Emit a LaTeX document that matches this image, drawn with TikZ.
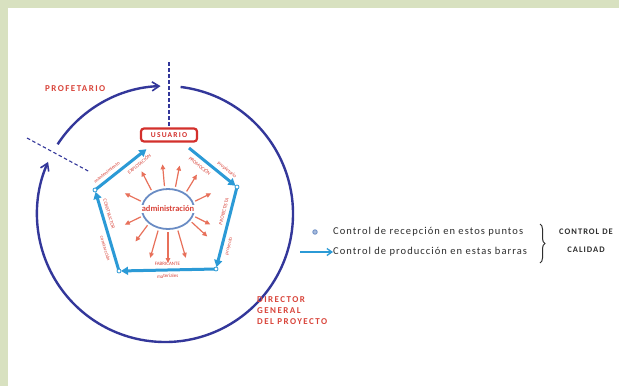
\documentclass[tikz,border=0pt]{standalone}
\usepackage{fontspec}
\setmainfont{Carlito}
\newfontfamily\redwide[LetterSpace=16]{Carlito}
\newfontfamily\legwide[LetterSpace=10]{Carlito}
\newfontfamily\ccwide[LetterSpace=12]{Carlito}
\usetikzlibrary{arrows.meta,decorations.pathreplacing,calc}
\definecolor{frame}{HTML}{D8E1C0}
\definecolor{navy}{HTML}{33379A}
\definecolor{lblue}{HTML}{2B9AD6}
\definecolor{boxred}{HTML}{D3302C}
\definecolor{txtred}{HTML}{D9443A}
\definecolor{salmon}{HTML}{E8705A}
\definecolor{steel}{HTML}{6A8CC4}
\definecolor{legtxt}{HTML}{2E2E2E}
\tikzset{
  bigarc/.style={draw=navy,line width=2.4pt},
  navytip/.style={-{Straight Barb[length=7pt,width=9pt,line width=1.6pt]}},
  dashline/.style={draw=navy,line width=1.1pt,dash pattern=on 3.5pt off 2.5pt},
  pentedge/.style={draw=lblue,line width=3pt,-{Triangle[length=7pt,width=8pt]},shorten >=2pt},
  vdot/.style={circle,draw=lblue,fill=white,line width=0.8pt,inner sep=0pt,minimum size=4pt},
  radarrow/.style={draw=salmon,line width=1.2pt,-{Triangle[length=5pt,width=4.5pt]}},
  edgelbl/.style={font=\fontsize{5}{5.5}\selectfont,text=txtred,inner sep=0.2pt},
  bigred/.style={font=\redwide\bfseries\fontsize{9}{11}\selectfont,text=txtred,align=left},
  legend/.style={font=\legwide\fontsize{10.5}{12}\selectfont,text=legtxt,anchor=west,inner sep=0pt}
}
\begin{document}
\begin{tikzpicture}[x=1pt,y=-1pt]
\useasboundingbox (0,0) rectangle (619,386);
\fill[frame] (0,0) rectangle (619,386);
\fill[white] (8,8) rectangle (619,386);

% big circle
\coordinate (C) at (165,214);
\draw[bigarc,navytip] ($(C)+(213:128)$) arc[start angle=213,end angle=268,radius=128];
\draw[bigarc,navytip] ($(C)+(277:128)$) arc[start angle=277,end angle=564,radius=128];

% usuario
\node[draw=boxred,line width=2.2pt,rounded corners=3pt,minimum width=56pt,minimum height=13pt,inner sep=0pt,
  font=\redwide\bfseries\fontsize{7.5}{8}\selectfont,text=boxred] (usr) at (169,135) {USUARIO};

% dashed lines
\coordinate (dtop) at (169,62);
\draw[dashline] (dtop) -- (usr.north);
\coordinate (dl1) at (27,138);
\coordinate (dl2) at (90,172);
\draw[dashline] (dl1) -- (dl2);

% pentagon vertices
\coordinate (LU) at (95,190);
\coordinate (RU) at (237,187);
\coordinate (RL) at (216,269);
\coordinate (LL) at (119,271);
\coordinate (UL) at (148,148);
\coordinate (UR) at (189,148);

\draw[pentedge] (LL) -- (LU);
\draw[pentedge] (LU) -- (UL);
\draw[pentedge] (UR) -- (RU);
\draw[pentedge] (RU) -- (RL);
\draw[pentedge] (RL) -- (LL);
\foreach \v in {LU,RU,RL,LL} \node[vdot] at (\v) {};

% edge labels
\path (LU) -- (UL) node[edgelbl,pos=0.3,sloped,above=4.5pt] {mantenimiento}
                   node[edgelbl,pos=0.75,sloped,below=4.5pt] {EXPLOTACIÓN};
\path (UR) -- (RU) node[edgelbl,pos=0.7,sloped,above=4.5pt] {propietario}
                   node[edgelbl,pos=0.32,sloped,below=4.5pt] {PROMOCIÓN};
\path (RL) -- (RU) node[edgelbl,pos=0.3,sloped,below=4.5pt] {proyecto}
                   node[edgelbl,pos=0.68,sloped,above=4.5pt] {PROYECTISTA};
\path (RL) -- (LL) node[edgelbl,pos=0.5,sloped,below=4pt] {materiales}
                   node[edgelbl,pos=0.5,sloped,above=4pt] {FABRICANTE};
\path (LU) -- (LL) node[edgelbl,pos=0.7,sloped,below=4.5pt] {construcción}
                   node[edgelbl,pos=0.32,sloped,above=4.5pt] {CONSTRUCTOR};

% administracion
\coordinate (A) at (168,209);
\draw[steel,line width=1.8pt] (A) ellipse[x radius=26,y radius=20];
\foreach \ang/\len in {-160/46,-125/46,-97/45,-75/45,-50/45,-20/46,20/45,35/48,70/52,90/54,110/52,135/46,160/46}{
  \draw[radarrow] ($(A)+(\ang:29 and 23)$) -- ($(A)+(\ang:\len)$);
}
\node[fill=white,inner sep=1pt,font=\bfseries\fontsize{8.5}{9}\selectfont,text=txtred] (adm) at (A) {administración};

% labels
\node[bigred,anchor=west,inner sep=0pt] (prop) at (45,89) {PROFETARIO};
\node[bigred,anchor=north west,inner sep=0pt] (dir) at (257,296) {DIRECTOR\\GENERAL\\DEL PROYECTO};

% legend
\node[vdot,fill=steel!60,draw=steel,minimum size=4.5pt] (ldot) at (315,232) {};
\node[legend] (l1) at (333,232) {Control de recepción en estos puntos};
\coordinate (la) at (300,252);
\node[legend] (l2) at (333,252) {Control de producción en estas barras};
\draw[draw=lblue,line width=1.6pt,-{Straight Barb[length=5pt,width=7pt,line width=1.3pt]}] (la) -- (l2.west);
\coordinate (b1) at (540,224);
\coordinate (b2) at (540,263);
\draw[legtxt,line width=1pt,decorate,decoration={brace,amplitude=5pt}] (b1) -- (b2);
\node[font=\ccwide\bfseries\fontsize{8.5}{18}\selectfont,text=legtxt,align=center] (cc) at (586,241) {CONTROL DE\\CALIDAD};
\end{tikzpicture}
\end{document}
